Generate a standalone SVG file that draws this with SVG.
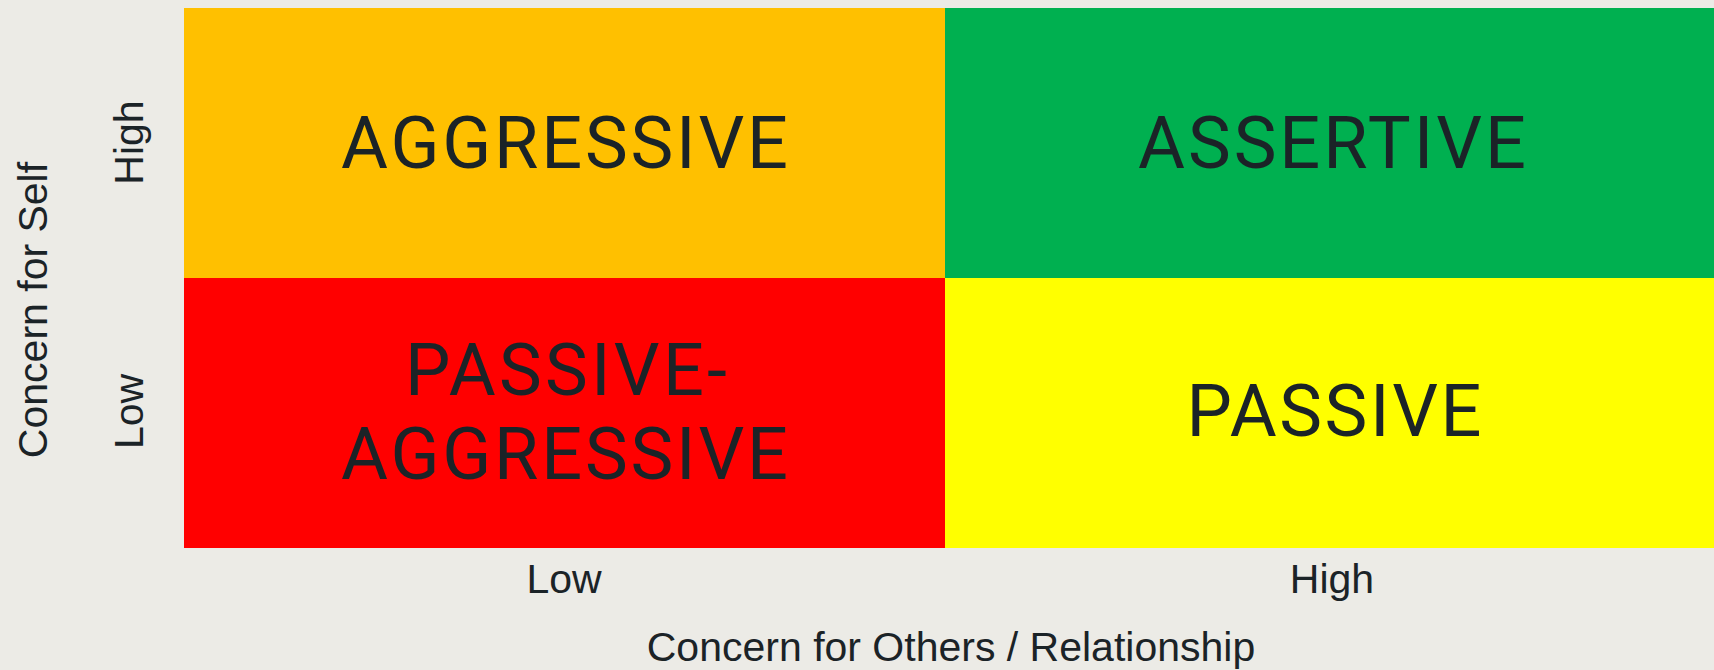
<svg xmlns="http://www.w3.org/2000/svg" width="1714" height="670" viewBox="0 0 1714 670">
  <style>
    text { font-family: "Liberation Sans", Arial, sans-serif; fill: #1b2327; }
    .big { font-family: Roboto, "Liberation Sans", sans-serif; font-size: 72px; text-anchor: middle; }
    .tick { font-size: 41px; text-anchor: middle; }
    .axis { font-size: 41px; text-anchor: middle; }
  </style>
  <!-- page background -->
  <rect x="0" y="0" width="1714" height="670" fill="#ECEBE6"/>

  <!-- quadrants -->
  <g id="aggressive">
    <rect x="184" y="8" width="761" height="270" fill="#FFC000"/>
    <text class="big" x="564.5" y="168" textLength="447" lengthAdjust="spacing">AGGRESSIVE</text>
  </g>
  <g id="assertive">
    <rect x="945" y="8" width="769" height="270" fill="#00B050"/>
    <text class="big" x="1332" y="168" textLength="388" lengthAdjust="spacing">ASSERTIVE</text>
  </g>
  <g id="passive-aggressive">
    <rect x="184" y="278" width="761" height="270" fill="#FF0000"/>
    <text class="big" x="566" y="395" textLength="322" lengthAdjust="spacing">PASSIVE-</text>
    <text class="big" x="564.5" y="479" textLength="447" lengthAdjust="spacing">AGGRESSIVE</text>
  </g>
  <g id="passive">
    <rect x="945" y="278" width="769" height="270" fill="#FFFF00"/>
    <text class="big" x="1334" y="436" textLength="295" lengthAdjust="spacing">PASSIVE</text>
  </g>

  <!-- horizontal axis -->
  <g id="x-axis">
    <text class="tick" x="564" y="593">Low</text>
    <text class="tick" x="1332" y="593">High</text>
    <text class="axis" x="951" y="661">Concern for Others / Relationship</text>
  </g>

  <!-- vertical axis -->
  <g id="y-axis">
    <text class="tick" transform="translate(143,142.5) rotate(-90)">High</text>
    <text class="tick" transform="translate(143,411.5) rotate(-90)">Low</text>
    <text class="axis" transform="translate(46.5,310) rotate(-90)" font-size="42">Concern for Self</text>
  </g>
</svg>
